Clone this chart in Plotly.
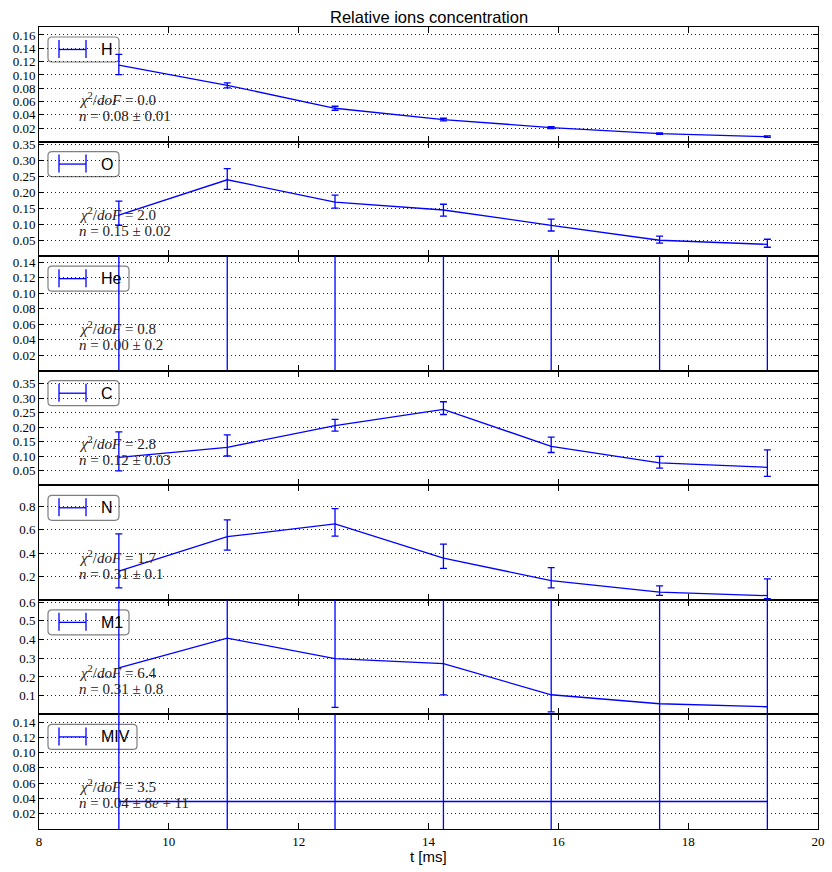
import plotly.graph_objects as go
from plotly.subplots import make_subplots

# ---------------- data ----------------
t_ms = [9.23, 10.9, 12.56, 14.23, 15.89, 17.56, 19.22]
species = ["H", "O", "He", "C", "N", "M1", "MIV"]

H_val = [0.1147, 0.0845, 0.050, 0.033, 0.021, 0.012, 0.0074]
H_up = [0.1308, 0.0880, 0.053, 0.035, 0.0225, 0.013, 0.0086]
H_lo = [0.1006, 0.0806, 0.047, 0.031, 0.0195, 0.011, 0.0062]

O_val = [0.129, 0.240, 0.170, 0.145, 0.097, 0.050, 0.037]
O_up = [0.173, 0.275, 0.192, 0.163, 0.116, 0.063, 0.053]
O_lo = [0.097, 0.210, 0.151, 0.126, 0.079, 0.041, 0.028]

He_val = [0.0, 0.0, 0.0, 0.0, 0.0, 0.0, 0.0]
He_up = [1.0, 1.0, 1.0, 1.0, 1.0, 1.0, 1.0]
He_lo = [-1.0, -1.0, -1.0, -1.0, -1.0, -1.0, -1.0]

C_val = [0.0965, 0.131, 0.206, 0.262, 0.134, 0.077, 0.062]
C_up = [0.184, 0.174, 0.227, 0.288, 0.166, 0.100, 0.122]
C_lo = [0.050, 0.101, 0.187, 0.244, 0.113, 0.059, 0.031]

N_val = [0.246, 0.54, 0.65, 0.356, 0.165, 0.067, 0.036]
N_up = [0.564, 0.685, 0.78, 0.477, 0.275, 0.119, 0.18]
N_lo = [0.102, 0.425, 0.546, 0.269, 0.102, 0.038, 0.01]

M1_val = [0.248, 0.408, 0.298, 0.271, 0.105, 0.057, 0.041]
M1_up = [0.9, 0.9, 0.9, 0.9, 0.9, 0.9, 0.9]
M1_lo = [-0.1, -0.1, 0.0375, 0.104, 0.014, -0.1, -0.1]

MIV_val = [0.036, 0.036, 0.036, 0.036, 0.036, 0.036, 0.036]
MIV_up = [0.6, 0.6, 0.6, 0.6, 0.6, 0.6, 0.6]
MIV_lo = [-0.5, -0.5, -0.5, -0.5, -0.5, -0.5, -0.5]

chi2_dof = ["0.0", "2.0", "0.8", "2.8", "1.7", "6.4", "3.5"]
n_fit = ["0.08 ± 0.01", "0.15 ± 0.02", "0.00 ± 0.2", "0.12 ± 0.03",
         "0.31 ± 0.1", "0.31 ± 0.8", "0.04 ± 8<i>e</i> + 11"]

y_max = [0.172, 0.36, 0.148, 0.395, 0.98, 0.612, 0.15]
y_ticks = [
    [0.02, 0.04, 0.06, 0.08, 0.10, 0.12, 0.14, 0.16],
    [0.05, 0.10, 0.15, 0.20, 0.25, 0.30, 0.35],
    [0.02, 0.04, 0.06, 0.08, 0.10, 0.12, 0.14],
    [0.05, 0.10, 0.15, 0.20, 0.25, 0.30, 0.35],
    [0.2, 0.4, 0.6, 0.8],
    [0.1, 0.2, 0.3, 0.4, 0.5, 0.6],
    [0.02, 0.04, 0.06, 0.08, 0.10, 0.12, 0.14],
]
y_fmt = [".2f", ".2f", ".2f", ".2f", ".1f", ".1f", ".2f"]
x_ticks = [8, 10, 12, 14, 16, 18, 20]

series = [
    (H_val, H_up, H_lo), (O_val, O_up, O_lo), (He_val, He_up, He_lo),
    (C_val, C_up, C_lo), (N_val, N_up, N_lo), (M1_val, M1_up, M1_lo),
    (MIV_val, MIV_up, MIV_lo),
]

# ---------------- layout geometry ----------------
W, H = 832, 872
L, R, T, B = 39, 818, 27, 829
PW, PH = R - L, B - T
BLUE = "#0000ff"
SERIF = "Liberation Serif, DejaVu Serif, serif"
SANS = "Liberation Sans, Arial, sans-serif"


def px_x(px):
    return (px - L) / PW


def px_y(py):
    return (B - py) / PH


nrows = len(species)
fig = make_subplots(rows=nrows, cols=1, shared_xaxes=True, vertical_spacing=0)

for i, (vals, up, lo) in enumerate(series):
    plus = [u - v for u, v in zip(up, vals)]
    minus = [v - l for v, l in zip(vals, lo)]
    fig.add_trace(
        go.Scatter(
            x=t_ms, y=vals, mode="lines", name=species[i], showlegend=False,
            line=dict(color=BLUE, width=1.3),
            error_y=dict(type="data", symmetric=False, array=plus, arrayminus=minus,
                         color=BLUE, thickness=1.3, width=3.5),
        ),
        row=i + 1, col=1,
    )
    fig.update_yaxes(
        range=[0, y_max[i]], tickvals=y_ticks[i], tickformat=y_fmt[i],
        row=i + 1, col=1,
    )

fig.update_yaxes(
    automargin=False,
    ticks="inside", ticklen=5, tickwidth=1, tickcolor="black", mirror="allticks",
    showline=True, linecolor="black", linewidth=1,
    showgrid=True, gridcolor="#222222", gridwidth=1, griddash="1px,3px",
    zeroline=False, tickfont=dict(family=SERIF, size=13, color="black"),
)
fig.update_xaxes(
    automargin=False,
    range=[8, 20], tickvals=x_ticks, ticks="inside", ticklen=6, tickwidth=1,
    tickcolor="black", mirror="allticks", showline=True, linecolor="black",
    linewidth=1, showgrid=False, zeroline=False,
    tickfont=dict(family=SERIF, size=13, color="black"),
)

shapes = []
annotations = []
box_right = {"H": 119, "O": 119, "He": 129, "C": 119, "N": 119, "M1": 129, "MIV": 137}
panel_h = PH / nrows
for i, name in enumerate(species):
    top = T + i * panel_h
    # rounded legend frame
    x0, x1 = px_x(48), px_x(box_right[name])
    y1, y0 = px_y(top + 10), px_y(top + 35)
    rx, ry = 4 / PW, 4 / PH
    path = (f"M {x0+rx},{y0} L {x1-rx},{y0} Q {x1},{y0} {x1},{y0+ry} "
            f"L {x1},{y1-ry} Q {x1},{y1} {x1-rx},{y1} L {x0+rx},{y1} "
            f"Q {x0},{y1} {x0},{y1-ry} L {x0},{y0+ry} Q {x0},{y0} {x0+rx},{y0} Z")
    shapes.append(dict(type="path", path=path, xref="paper", yref="paper",
                       line=dict(color="#7f7f7f", width=1.2),
                       fillcolor="rgba(255,255,255,0.9)", layer="between"))
    # errorbar legend symbol
    yc = px_y(top + 22.5)
    shapes.append(dict(type="line", xref="paper", yref="paper", x0=px_x(59), x1=px_x(86),
                       y0=yc, y1=yc, line=dict(color=BLUE, width=1.3), layer="above"))
    for cx in (59, 86):
        shapes.append(dict(type="line", xref="paper", yref="paper", x0=px_x(cx), x1=px_x(cx),
                           y0=px_y(top + 13), y1=px_y(top + 31),
                           line=dict(color=BLUE, width=1.3), layer="above"))
    annotations.append(dict(text=name, xref="paper", yref="paper", x=px_x(99), y=yc,
                            xanchor="left", yanchor="middle", showarrow=False,
                            font=dict(family=SANS, size=16, color="black")))
    annotations.append(dict(
        text=f"<i>χ</i><sup>2</sup>/<i>doF</i> = {chi2_dof[i]}",
        xref="paper", yref="paper", x=px_x(77), y=px_y(top + 72),
        xanchor="left", yanchor="middle", showarrow=False,
        font=dict(family=SERIF, size=15, color="#222222")))
    annotations.append(dict(
        text=f"<i>n</i> = {n_fit[i]}",
        xref="paper", yref="paper", x=px_x(77), y=px_y(top + 89),
        xanchor="left", yanchor="middle", showarrow=False,
        font=dict(family=SERIF, size=15, color="#222222")))

annotations.append(dict(text="Relative ions concentration", xref="paper", yref="paper",
                        x=0.5, y=px_y(17), xanchor="center", yanchor="middle",
                        showarrow=False, font=dict(family=SANS, size=16.5, color="black")))
annotations.append(dict(text="t [ms]", xref="paper", yref="paper",
                        x=0.5, y=px_y(856), xanchor="center", yanchor="middle",
                        showarrow=False, font=dict(family=SANS, size=15, color="black")))

fig.update_layout(
    width=W, height=H,
    margin=dict(l=L, r=W - R, t=T, b=H - B, pad=0),
    paper_bgcolor="white", plot_bgcolor="white",
    shapes=shapes, annotations=annotations, showlegend=False,
)

fig.write_html(
    "out.html",
    config={"displayModeBar": False},
    post_script="document.body.style.margin='0';document.body.style.overflow='hidden';",
)
